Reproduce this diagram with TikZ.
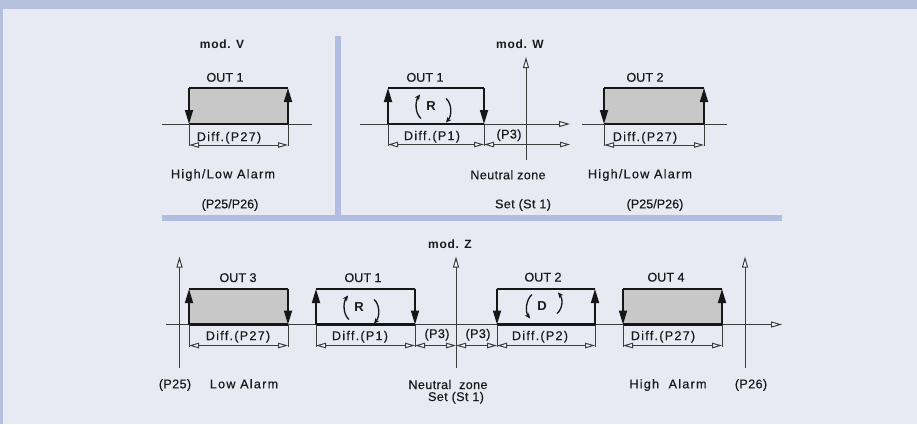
\documentclass[tikz,border=0pt]{standalone}
\usepackage{fontspec}
\setmainfont[FakeBold=0.45]{Liberation Sans}
\newfontfamily\spfont[LetterSpace=10,FakeBold=0.45]{Liberation Sans}
\newfontfamily\ltfont[LetterSpace=3,FakeBold=0.45]{Liberation Sans}
\newfontfamily\modfont[LetterSpace=6]{Liberation Sans Bold}
\newfontfamily\rfont{Liberation Sans Bold}
\usetikzlibrary{arrows.meta}
\definecolor{bgc}{RGB}{231,234,243}
\definecolor{bandc}{RGB}{180,192,222}
\definecolor{barc}{RGB}{176,189,224}
\definecolor{boxc}{RGB}{200,200,200}
\definecolor{ink}{RGB}{22,22,22}
\definecolor{axc}{RGB}{60,60,60}
\definecolor{txt}{RGB}{25,25,25}
\tikzset{
  lbl/.style={anchor=base,inner sep=0pt,text=txt,font=\fontsize{12.6}{14}\selectfont},
  splbl/.style={lbl,font=\spfont\fontsize{12.6}{14}\selectfont},
  ltlbl/.style={lbl,font=\ltfont\fontsize{12.6}{14}\selectfont},
  modlbl/.style={lbl,font=\modfont\fontsize{12}{13}\selectfont},
  rlbl/.style={lbl,font=\rfont\fontsize{13}{14}\selectfont},
  axisline/.style={draw=axc,line width=1pt},
  axarrow/.style={axisline,-{Triangle[length=11pt,width=6pt,fill=white]}},
  edgeline/.style={draw=ink,line width=2.3pt},
  sidearrow/.style={draw=ink,line width=1.7pt,-{Triangle[length=14pt,width=8pt]}},
  extline/.style={draw=axc,line width=1pt},
  dimline/.style={draw=axc,line width=1pt,{Triangle[length=10pt,width=5.5pt,fill=white]}-{Triangle[length=10pt,width=5.5pt,fill=white]}},
  circarrow/.style={draw=ink,line width=1.3pt,-{Stealth[length=5.5pt,width=5pt]}},
  graybox/.style={fill=boxc}
}
\begin{document}
\begin{tikzpicture}[x=1pt,y=-1pt]
\useasboundingbox (0,0) rectangle (917,424);
\fill[bgc] (0,0) rectangle (917,424);
\fill[bandc] (0,0) rectangle (917,8.5);
\fill[bandc] (0,0) rectangle (3,424);
\fill[barc] (335,36) rectangle (341,215);
\fill[barc] (162,215) rectangle (782,221);

% ---------------- mod. V ----------------
\node[modlbl] (modV) at (222,48.5) {mod. V};
\draw[axisline] (162,124) -- (312,124);
\fill[graybox] (189,88) rectangle (288,124);
\draw[edgeline] (189,88) -- (288,88);
\draw[edgeline] (189,124) -- (288,124);
\draw[sidearrow] (189,88) -- (189,124);
\draw[sidearrow] (288,124) -- (288,88);
\draw[extline] (189,124) -- (189,146);
\draw[extline] (288,124) -- (288,146);
\draw[dimline] (189,145) -- (288,145);
\node[lbl] (v1) at (225,81.7) {OUT 1};
\node[splbl] (v2) at (229,141) {Diff.(P27)};
\node[splbl] (v3) at (223,178.3) {High/Low Alarm};
\node[lbl] (v4) at (230,208.3) {(P25/P26)};

% ---------------- mod. W ----------------
\node[modlbl] (modW) at (520,48.5) {mod. W};
\draw[axarrow] (360,124) -- (570,124);
\draw[axarrow] (526,160) -- (526,57);
\draw[edgeline] (388,88) -- (484,88);
\draw[edgeline] (388,124) -- (484,124);
\draw[sidearrow] (388,124) -- (388,88);
\draw[sidearrow] (484,88) -- (484,124);
\draw[extline] (388,124) -- (388,146);
\draw[extline] (484,124) -- (484,146);
\draw[dimline] (388,144.5) -- (484,144.5);
\draw[dimline] (484,144.5) -- (570,144.5);
\node[lbl] (w1) at (425,81.7) {OUT 1};
\node[rlbl] (RW) at (431,110.5) {R};
\draw[circarrow] ([shift={(-10,8)}]RW.base) .. controls ([shift={(-16,3)}]RW.base) and ([shift={(-16,-9)}]RW.base) .. ([shift={(-11,-16)}]RW.base);
\draw[circarrow] ([shift={(15,-12)}]RW.base) .. controls ([shift={(21,-7)}]RW.base) and ([shift={(21,5)}]RW.base) .. ([shift={(15,12)}]RW.base);
\node[splbl] (w2) at (432,140) {Diff.(P1)};
\node[ltlbl] (w3) at (509,138.5) {(P3)};
\node[ltlbl] (w4) at (508,179.3) {Neutral zone};
\node[ltlbl] (w5) at (523,208.3) {Set (St 1)};

\draw[axisline] (582,124) -- (727,124);
\fill[graybox] (604,88) rectangle (704,124);
\draw[edgeline] (604,88) -- (704,88);
\draw[edgeline] (604,124) -- (704,124);
\draw[sidearrow] (604,88) -- (604,124);
\draw[sidearrow] (704,124) -- (704,88);
\draw[extline] (604,124) -- (604,146);
\draw[extline] (704,124) -- (704,146);
\draw[dimline] (604,145) -- (704,145);
\node[lbl] (w6) at (645,81.7) {OUT 2};
\node[splbl] (w7) at (645,141) {Diff.(P27)};
\node[splbl] (w8) at (640,178.3) {High/Low Alarm};
\node[lbl] (w9) at (655,208.3) {(P25/P26)};

% ---------------- mod. Z ----------------
\node[modlbl] (modZ) at (450,248.5) {mod. Z};
\draw[axarrow] (166,324.5) -- (782,324.5);
\draw[axarrow] (179.5,368) -- (179.5,256.5);
\draw[axarrow] (456,368) -- (456,256.5);
\draw[axarrow] (745,368) -- (745,256.5);

% OUT 3
\fill[graybox] (189,289) rectangle (288,324.5);
\draw[edgeline] (189,289) -- (288,289);
\draw[edgeline] (189,324.5) -- (288,324.5);
\draw[sidearrow] (189,324.5) -- (189,289);
\draw[sidearrow] (288,289) -- (288,324.5);
% OUT 1
\draw[edgeline] (316,289) -- (415,289);
\draw[edgeline] (316,324.5) -- (415,324.5);
\draw[sidearrow] (316,324.5) -- (316,289);
\draw[sidearrow] (415,289) -- (415,324.5);
% OUT 2
\draw[edgeline] (497,289) -- (595,289);
\draw[edgeline] (497,324.5) -- (595,324.5);
\draw[sidearrow] (497,289) -- (497,324.5);
\draw[sidearrow] (595,324.5) -- (595,289);
% OUT 4
\fill[graybox] (623,289) rectangle (722,324.5);
\draw[edgeline] (623,289) -- (722,289);
\draw[edgeline] (623,324.5) -- (722,324.5);
\draw[sidearrow] (623,289) -- (623,324.5);
\draw[sidearrow] (722,324.5) -- (722,289);

\foreach \xx in {189,288,316,415,497,595,623,722}
  \draw[extline] (\xx,324.5) -- (\xx,347);
\draw[dimline] (189,345.5) -- (288,345.5);
\draw[dimline] (316,345.5) -- (415,345.5);
\draw[dimline] (415,345.5) -- (456,345.5);
\draw[dimline] (456,345.5) -- (497,345.5);
\draw[dimline] (497,345.5) -- (595,345.5);
\draw[dimline] (623,345.5) -- (722,345.5);

\node[lbl] (z1) at (238,282) {OUT 3};
\node[lbl] (z2) at (363,282) {OUT 1};
\node[lbl] (z3) at (543,281.5) {OUT 2};
\node[lbl] (z4) at (666,281.5) {OUT 4};
\node[rlbl] (RZ) at (359,311.5) {R};
\draw[circarrow] ([shift={(-10,8)}]RZ.base) .. controls ([shift={(-16,3)}]RZ.base) and ([shift={(-16,-9)}]RZ.base) .. ([shift={(-11,-16)}]RZ.base);
\draw[circarrow] ([shift={(15,-12)}]RZ.base) .. controls ([shift={(21,-7)}]RZ.base) and ([shift={(21,5)}]RZ.base) .. ([shift={(15,12)}]RZ.base);
\node[rlbl] (DZ) at (542,310.5) {D};
\draw[circarrow] ([shift={(-10,-16)}]DZ.base) .. controls ([shift={(-16,-11)}]DZ.base) and ([shift={(-17,1)}]DZ.base) .. ([shift={(-12,8)}]DZ.base);
\draw[circarrow] ([shift={(15,3)}]DZ.base) .. controls ([shift={(21,-2)}]DZ.base) and ([shift={(21,-12)}]DZ.base) .. ([shift={(16,-18)}]DZ.base);

\node[splbl] (z5) at (238,340) {Diff.(P27)};
\node[splbl] (z6) at (360,340) {Diff.(P1)};
\node[ltlbl] (z7) at (437,338) {(P3)};
\node[ltlbl] (z8) at (478,338) {(P3)};
\node[splbl] (z9) at (540,340) {Diff.(P2)};
\node[splbl] (z10) at (663,340) {Diff.(P27)};

\node[ltlbl] (z11) at (175,388.3) {(P25)};
\node[splbl] (z12) at (244,388.3) {Low Alarm};
\node[ltlbl] (z13) at (448,389) {Neutral\ \ zone};
\node[ltlbl] (z14) at (456,401) {Set (St 1)};
\node[splbl] (z15) at (668,388.3) {High\ \ Alarm};
\node[ltlbl] (z16) at (751,388.3) {(P26)};
\end{tikzpicture}
\end{document}
